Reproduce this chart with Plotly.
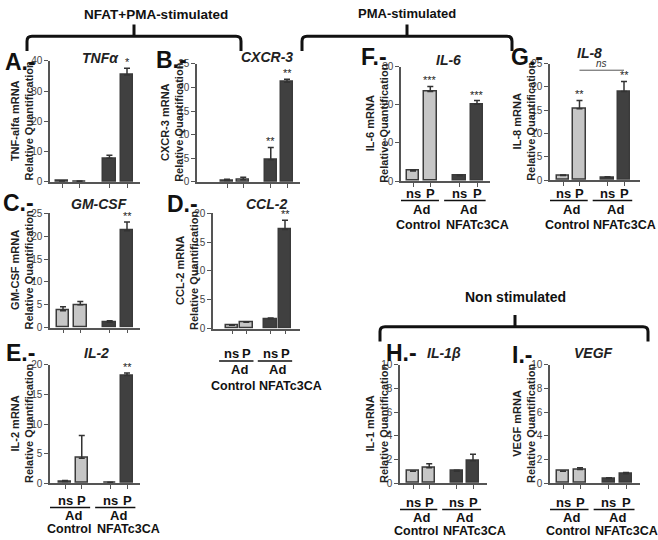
import plotly.graph_objects as go

W, H = 658, 540
def px(x): return x / W
def py(y): return 1 - y / H

# ---------------- data ----------------
groups = ["Control", "NFATc3CA"]
conditions = ["ns", "P"]

tnf_mean = [0.3, 0.2, 7.8, 35.3]
tnf_err = [0.1, 0.1, 1.0, 2.2]
tnf_sig = ["", "", "", "*"]

cxcr3_mean = [0.3, 0.5, 4.7, 21.1]
cxcr3_err = [0.3, 0.5, 2.6, 0.6]
cxcr3_sig = ["", "", "**", "**"]

gmcsf_mean = [3.7, 5.0, 1.2, 21.2]
gmcsf_err = [0.9, 0.7, 0.3, 1.9]
gmcsf_sig = ["", "", "", "**"]

ccl2_mean = [0.6, 1.1, 1.7, 17.2]
ccl2_err = [0.1, 0.1, 0.15, 1.6]
ccl2_sig = ["", "", "", "**"]

il2_mean = [0.3, 4.2, 0.1, 18.2]
il2_err = [0.15, 3.85, 0.05, 0.4]
il2_sig = ["", "", "", "**"]

il6_mean = [2.6, 23.5, 1.4, 20.1]
il6_err = [0.3, 1.3, 0.2, 1.0]
il6_sig = ["", "***", "", "***"]

il8_mean = [1.0, 15.3, 0.6, 19.0]
il8_err = [0.1, 1.8, 0.1, 2.2]
il8_sig = ["", "**", "", "**"]

il1b_mean = [1.0, 1.3, 1.0, 1.9]
il1b_err = [0.02, 0.35, 0.1, 0.55]
il1b_sig = ["", "", "", ""]

vegf_mean = [1.0, 1.15, 0.4, 0.8]
vegf_err = [0.02, 0.15, 0.05, 0.1]
vegf_sig = ["", "", "", ""]

# ---------------- layout specs (pixel geometry) ----------------
panels = [
    dict(letter="A.-", title="TNFα", ytitle="TNF-alfa mRNA", m=tnf_mean, e=tnf_err, s=tnf_sig,
         ymax=40, dtick=10, L=50, R=140, b1=62, b4=127, y0=180, yt=56, ytx=22,
         tpos=(100, 53), lpos=(20, 57), labels=None),
    dict(letter="B.-", title="CXCR-3", ytitle="CXCR-3 mRNA", m=cxcr3_mean, e=cxcr3_err, s=cxcr3_sig,
         ymax=25, dtick=5, L=197, R=300, b1=227, b4=287, y0=180, yt=59, ytx=172,
         tpos=(267, 52), lpos=(171, 55), labels=None),
    dict(letter="C.-", title="GM-CSF", ytitle="GM-CSF mRNA", m=gmcsf_mean, e=gmcsf_err, s=gmcsf_sig,
         ymax=25, dtick=5, L=50, R=140, b1=63, b4=127, y0=329, yt=212, ytx=22,
         tpos=(99, 203), lpos=(18, 201), labels=None),
    dict(letter="D.-", title="CCL-2", ytitle="CCL-2 mRNA", m=ccl2_mean, e=ccl2_err, s=ccl2_sig,
         ymax=20, dtick=5, L=213, R=300, b1=232, b4=285, y0=330, yt=212, ytx=187,
         tpos=(266, 203), lpos=(182, 203), labels=(355, 363, 372, 389), gshift=(-6, 13)),
    dict(letter="E.-", title="IL-2", ytitle="IL-2 mRNA", m=il2_mean, e=il2_err, s=il2_sig,
         ymax=20, dtick=5, L=50, R=140, b1=65, b4=127, y0=488, yt=367, ytx=22,
         tpos=(96, 355), lpos=(20, 355), labels=(506, 513, 521, 535), gshift=(-4, 10)),
    dict(letter="F.-", title="IL-6", ytitle="IL-6 mRNA", m=il6_mean, e=il6_err, s=il6_sig,
         ymax=30, dtick=10, L=401, R=490, b1=413, b4=477, y0=179, yt=62, ytx=377,
         tpos=(448, 55), lpos=(374, 52), labels=(192, 199, 208, 224), gshift=(-4, 9)),
    dict(letter="G.-", title="IL-8", ytitle="IL-8 mRNA", m=il8_mean, e=il8_err, s=il8_sig,
         ymax=25, dtick=5, L=550, R=640, b1=563, b4=624, y0=178, yt=59, ytx=524,
         tpos=(589, 48), lpos=(527, 52), labels=(192, 199, 208, 224), gshift=(-4, 9)),
    dict(letter="H.-", title="IL-1β", ytitle="IL-1 mRNA", m=il1b_mean, e=il1b_err, s=il1b_sig,
         ymax=10, dtick=2, L=400, R=487, b1=413, b4=473, y0=488, yt=367, ytx=377,
         tpos=(444, 355), lpos=(402, 355), labels=(508, 515, 523, 537), gshift=(-5, 10)),
    dict(letter="I.-", title="VEGF", ytitle="VEGF mRNA", m=vegf_mean, e=vegf_err, s=vegf_sig,
         ymax=10, dtick=2, L=550, R=640, b1=563, b4=626, y0=488, yt=367, ytx=524,
         tpos=(593, 355), lpos=(522, 357), labels=(508, 515, 523, 537), gshift=(-4, 9)),
]

FONT = "Liberation Sans, Arial, sans-serif"
LIGHT = "#c6c6c6"
DARK = "#404040"
EDGE = "#3a3a3a"
GAP = 2.7  # group spacing in axis units
positions = [g * GAP + c for g in range(len(groups)) for c in range(len(conditions))]

fig = go.Figure()
layout = dict(width=W, height=H, margin=dict(l=0, r=0, t=0, b=0),
              paper_bgcolor="white", plot_bgcolor="white", showlegend=False,
              font=dict(family=FONT, color="#222"), bargap=0)
annotations = []
shapes = []

def ann(**kw):
    kw.setdefault("showarrow", False)
    kw.setdefault("xanchor", "center")
    kw.setdefault("yanchor", "middle")
    annotations.append(kw)

for i, p in enumerate(panels, start=1):
    xa, ya = f"x{i}", f"y{i}"
    ppu = (p["b4"] - p["b1"]) / (positions[-1] - positions[0])
    xr = [positions[0] - (p["b1"] - p["L"]) / ppu, positions[0] + (p["R"] - p["b1"]) / ppu]
    bw = 12.5 / ppu
    for g, gname in enumerate(groups):
        xs = positions[g * 2:(g + 1) * 2]
        ms = p["m"][g * 2:(g + 1) * 2]
        es = p["e"][g * 2:(g + 1) * 2]
        fig.add_trace(go.Bar(
            x=xs, y=ms, width=[bw] * 2, xaxis=xa, yaxis=ya,
            marker=dict(color=LIGHT if g == 0 else DARK, line=dict(color=EDGE, width=1.5)),
            error_y=dict(type="data", array=es, arrayminus=[0, 0], symmetric=False,
                         color="#333", thickness=1.5, width=3),
            hoverinfo="skip"))
    layout[f"xaxis{i}"] = dict(domain=[px(p["L"]), px(p["R"])], anchor=ya, range=xr,
                               showline=True, linecolor="#555", linewidth=1.5,
                               ticks="outside", ticklen=4, tickcolor="#555", tickwidth=1.2,
                               tickvals=positions, ticktext=[""] * 4,
                               showgrid=False, zeroline=False, fixedrange=True)
    layout[f"yaxis{i}"] = dict(domain=[py(p["y0"]), py(p["yt"])], anchor=xa, range=[0, p["ymax"]],
                               dtick=p["dtick"], showline=True, linecolor="#555", linewidth=1.5,
                               ticks="outside", ticklen=4, tickcolor="#555", tickwidth=1.2,
                               tickfont=dict(size=10, color="#444"),
                               showgrid=False, zeroline=False, fixedrange=True)
    # significance stars
    for xv, mv, ev, sv in zip(positions, p["m"], p["e"], p["s"]):
        if sv:
            ann(x=xv, y=mv + ev, xref=xa, yref=ya, text=sv, yanchor="bottom", yshift=-2,
                font=dict(size=11, color="#222", family=FONT))
    # y-axis title
    ann(x=px(p["ytx"]), y=py((p["y0"] + p["yt"]) / 2), xref="paper", yref="paper",
        text=f"<b>{p['ytitle']}<br>Relative Quantification</b>", textangle=-90,
        font=dict(size=11, color="#222"), align="center")
    # panel title
    ann(x=px(p["tpos"][0]), y=py(p["tpos"][1]), xref="paper", yref="paper",
        text=f"<b><i>{p['title']}</i></b>", font=dict(size=14, color="#222"))
    # panel letter
    ann(x=px(p["lpos"][0]), y=py(p["lpos"][1]), xref="paper", yref="paper",
        text=f"<b>{p['letter']}</b>", font=dict(size=23, color="#111"))
    # x-axis group labels
    if p["labels"]:
        yns, yline, yad, ygrp = p["labels"]
        for g, gname in enumerate(groups):
            xs = positions[g * 2:(g + 1) * 2]
            for xv, cname in zip(xs, conditions):
                ann(x=xv, y=py(yns), xref=xa, yref="paper", text=f"<b>{cname}</b>",
                    font=dict(size=13, color="#111"))
            shapes.append(dict(type="line", xref=xa, yref="paper", x0=xs[0] - 0.9, x1=xs[1] + 0.5,
                               y0=py(yline), y1=py(yline), line=dict(color="#111", width=1.5)))
            cx = (xs[0] + xs[1]) / 2
            ann(x=cx, y=py(yad), xref=xa, yref="paper", text="<b>Ad</b>",
                font=dict(size=13, color="#111"))
            ann(x=cx, y=py(ygrp), xref=xa, yref="paper", xshift=p["gshift"][g], text=f"<b>{gname}</b>",
                font=dict(size=12.5, color="#111"))

# IL-8 "ns" comparison bracket (panel G = 7)
shapes.append(dict(type="line", xref="x7", yref="y7", x0=positions[1], x1=positions[3],
                   y0=23.6, y1=23.6, line=dict(color="#555", width=1)))
ann(x=(positions[1] + positions[3]) / 2, y=23.6, xref="x7", yref="y7",
    text="<i>ns</i>", yanchor="bottom", yshift=-1, font=dict(size=10, color="#333"))

# section headers with braces
def brace(x0, x1, xc, yh, yend, ytop):
    r = 5
    path = (f"M {px(x0)},{py(yend)} L {px(x0)},{py(yh + r)} Q {px(x0)},{py(yh)} {px(x0 + r)},{py(yh)} "
            f"L {px(xc)},{py(yh)} L {px(xc)},{py(ytop)} M {px(xc)},{py(yh)} "
            f"L {px(x1 - r)},{py(yh)} Q {px(x1)},{py(yh)} {px(x1)},{py(yh + r)} L {px(x1)},{py(yend)}")
    return dict(type="path", xref="paper", yref="paper", path=path, line=dict(color="#111", width=3))

shapes.append(brace(27, 241, 134, 31, 46, 19))
shapes.append(brace(302, 512, 407, 31, 46, 19))
shapes.append(brace(380, 648, 515, 328, 343, 316))

headers = [("NFAT+PMA-stimulated", 156, 9, 13.5), ("PMA-stimulated", 407, 8, 13), ("Non stimulated", 515, 298, 14)]
for txt, hx, hy, fs in headers:
    ann(x=px(hx), y=py(hy), xref="paper", yref="paper", text=f"<b>{txt}</b>",
        font=dict(size=fs, family=FONT, color="#111"))

layout["annotations"] = annotations
layout["shapes"] = shapes
fig.update_layout(**layout)
fig.write_html("out.html", config={"displayModeBar": False},
               post_script="document.body.style.margin='0';document.body.style.overflow='hidden';")
